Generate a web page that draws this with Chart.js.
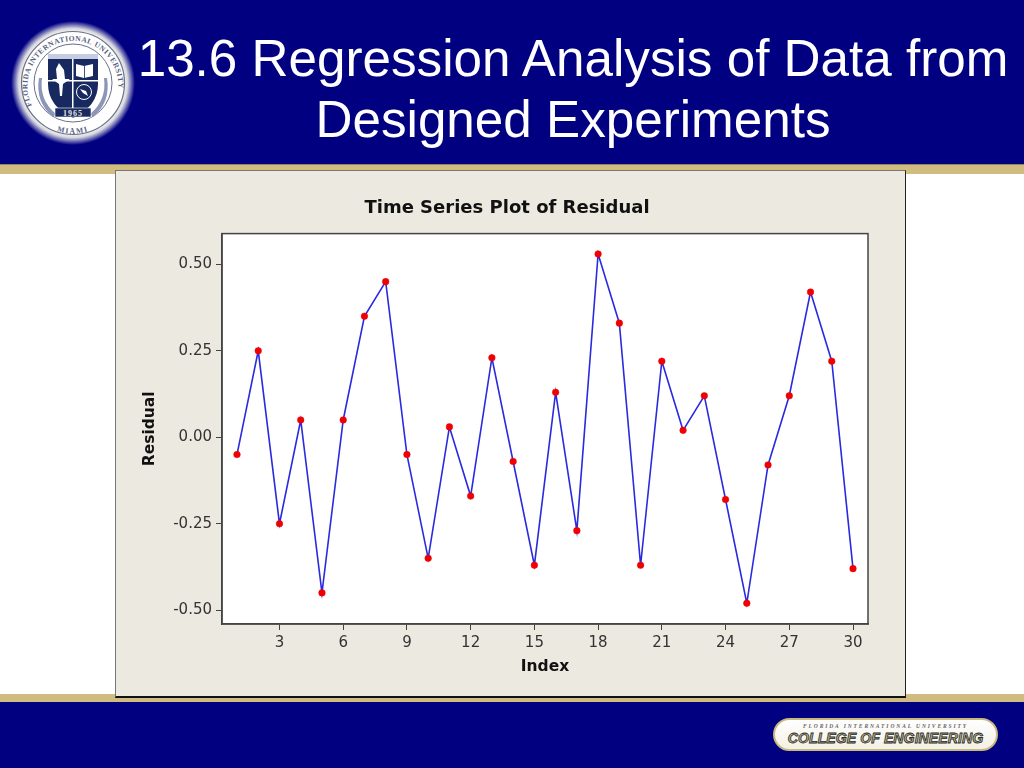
<!DOCTYPE html>
<html>
<head>
<meta charset="utf-8">
<title>13.6 Regression Analysis of Data from Designed Experiments</title>
<script src="https://cdn.jsdelivr.net/npm/chart.js@4"></script>
<style>
html, body { margin: 0; padding: 0; background: #fff; }
#slide { position: relative; width: 1024px; height: 768px; overflow: hidden; font-family: "Liberation Sans", sans-serif; }
#head { position: absolute; left: 0; top: 0; width: 1024px; height: 164px; background: #000080; }
#headBand { position: absolute; left: 0; top: 164px; width: 1024px; height: 10px; background: #d0bc80; border-top: 1px solid #8f8560; box-sizing: border-box; }
#foot { position: absolute; left: 0; top: 702px; width: 1024px; height: 66px; background: #000080; }
#footBand { position: absolute; left: 0; top: 694px; width: 1024px; height: 8px; background: #d0bc80; }
#title { position: absolute; left: 123px; top: 28px; width: 900px; text-align: center; color: #fff; font-size: 51.2px; line-height: 61px; white-space: nowrap; }
#panel { position: absolute; left: 115px; top: 170px; width: 791px; height: 528px; background: #ece9e0; border: 1px solid #77766f; border-right-color: #222; border-bottom: 2px solid #111; box-sizing: border-box; }
#chartBox { position: absolute; left: 115px; top: 170px; width: 784px; height: 527px; }
#seal { position: absolute; left: 8px; top: 18px; }
#badge { position: absolute; left: 773px; top: 718px; width: 225px; height: 33px; border-radius: 17px; background: linear-gradient(#fff, #f3f0e4); border: 2px solid #c9b97f; box-sizing: border-box; text-align: center; }
#badge .top { font: italic bold 5.5px "Liberation Serif", serif; letter-spacing: 1.9px; color: #666; margin-top: 3px; line-height: 7px; }
#badge .main { font: italic bold 14.2px "Liberation Sans", sans-serif; color: #b9b48c; -webkit-text-stroke: 0.8px #2a2a2a; line-height: 17px; white-space: nowrap; }
</style>
</head>
<body>
<div id="slide">
  <div id="head"></div>
  <div id="headBand"></div>
  <div id="footBand"></div>
  <div id="foot"></div>
  <div id="title">13.6 Regression Analysis of Data from<br>Designed Experiments</div>

  <svg id="seal" width="130" height="130" viewBox="0 0 130 130">
    <defs>
      <radialGradient id="glow">
        <stop offset="0.8" stop-color="#fffff4"/>
        <stop offset="0.88" stop-color="#fffff0" stop-opacity="0.85"/>
        <stop offset="1" stop-color="#fff" stop-opacity="0"/>
      </radialGradient>
      <path id="ringTop" d="M 23.7 87.5 A 45.5 45.5 0 1 1 106.3 87.5"/>
      <path id="ringBottom" d="M 27 98 A 50 50 0 0 0 103 98"/>
    </defs>
    <circle cx="65" cy="65" r="62" fill="url(#glow)"/>
    <circle cx="65" cy="65" r="51.5" fill="#fff" stroke="#68708c" stroke-width="1.2"/>
    <circle cx="65" cy="65" r="39" fill="#fff" stroke="#68708c" stroke-width="1"/>
    <text font-family="Liberation Serif" font-size="7.5" font-weight="bold" fill="#56607e" letter-spacing="0.5"><textPath href="#ringTop">FLORIDA INTERNATIONAL UNIVERSITY</textPath></text>
    <text font-family="Liberation Serif" font-size="7.5" font-weight="bold" fill="#56607e" letter-spacing="1.4" text-anchor="middle"><textPath href="#ringBottom" startOffset="50%">MIAMI</textPath></text>
    <path d="M 34 60 Q 31 82 48 96 L 45 99 Q 27 84 31 60 Z" fill="#8c97b8"/>
    <path d="M 96 60 Q 99 82 82 96 L 85 99 Q 103 84 99 60 Z" fill="#8c97b8"/>
    <path d="M 40 36 L 90 36 L 90 66 Q 90 88 65 100 Q 40 88 40 66 Z" fill="#17295e"/>
    <rect x="40" y="36" width="50" height="5" fill="#c7cde0"/>
    <rect x="64" y="41" width="1.5" height="50" fill="#fff"/>
    <rect x="40" y="62" width="50" height="1.5" fill="#fff"/>
    <path d="M 51 45 L 56 52 L 57 61 L 49 61 L 48 51 Z" fill="#fff"/>
    <path d="M 44 61 L 62 61 L 55 66 L 54 78 L 52 78 L 51 66 Z" fill="#fff"/>
    <path d="M 68 46 L 76 48 L 85 46 L 85 58 L 76 60 L 68 58 Z" fill="#fff"/>
    <rect x="76" y="48" width="0.8" height="12" fill="#17295e"/>
    <circle cx="76" cy="74" r="7.5" fill="#17295e" stroke="#fff" stroke-width="1"/>
    <path d="M 72 71 L 78 73 L 80 78 L 75 75 Z" fill="#fff"/>
    <rect x="47" y="90" width="36" height="9" fill="#17295e" stroke="#fff" stroke-width="0.6"/>
    <text x="65" y="97.5" text-anchor="middle" font-family="Liberation Serif" font-size="8" font-weight="bold" fill="#e6e6e6" letter-spacing="1">1965</text>
  </svg>

  <div id="panel"></div>
  <div id="chartBox"><canvas id="residualChart" width="784" height="527"></canvas></div>

  <div id="badge">
    <div class="top">FLORIDA INTERNATIONAL UNIVERSITY</div>
    <div class="main">COLLEGE OF ENGINEERING</div>
  </div>
</div>

<script>
// Time series of residuals
const indexValues = [1, 2, 3, 4, 5, 6, 7, 8, 9, 10, 11, 12, 13, 14, 15, 16, 17, 18, 19, 20, 21, 22, 23, 24, 25, 26, 27, 28, 29, 30];
const residuals = [-0.05, 0.25, -0.25, 0.05, -0.45, 0.05, 0.35, 0.45, -0.05, -0.35, 0.03, -0.17, 0.23, -0.07, -0.37, 0.13, -0.27, 0.53, 0.33, -0.37, 0.22, 0.02, 0.12, -0.18, -0.48, -0.08, 0.12, 0.42, 0.22, -0.38];
const xTicks = [3, 6, 9, 12, 15, 18, 21, 24, 27, 30];
const yTicks = [-0.5, -0.25, 0, 0.25, 0.5];

const axisColor = '#444444';
const labelFont = '"DejaVu Sans", sans-serif';

// Minitab draws a closed frame round the plot
const plotFrame = {
    id: 'plotFrame',
    beforeDraw(chart) {
        const { ctx, chartArea: a } = chart;
        ctx.save();
        ctx.fillStyle = '#ffffff';
        ctx.fillRect(a.left, a.top, a.width, a.height);
        ctx.restore();
    },
    afterDraw(chart) {
        const { ctx, chartArea: a } = chart;
        ctx.save();
        ctx.strokeStyle = axisColor;
        ctx.lineWidth = 1.5;
        ctx.strokeRect(a.left, a.top, a.width, a.height);
        ctx.restore();
    }
};

new Chart(document.getElementById('residualChart').getContext('2d'), {
    type: 'line',
    plugins: [plotFrame],
    data: {
        datasets: [{
            label: 'Residual',
            data: indexValues.map((x, i) => ({ x: x, y: residuals[i] })),
            borderColor: '#2a2ae0',
            borderWidth: 1.6,
            tension: 0,
            pointBackgroundColor: '#f00000',
            pointBorderColor: '#f00000',
            pointRadius: 3.3,
            pointBorderWidth: 0.5
        }]
    },
    options: {
        responsive: false,
        animation: false,
        // left and right padding equal so the title centres where Minitab put it
        layout: { padding: { top: 28, right: 31, left: 31, bottom: 0 } },
        plugins: {
            legend: { display: false },
            tooltip: { enabled: false },
            title: {
                display: true,
                text: 'Time Series Plot of Residual',
                color: '#111111',
                font: { family: labelFont, size: 18, weight: '600' },
                padding: { top: 0, bottom: 14 }
            }
        },
        scales: {
            x: {
                type: 'linear',
                min: 0.294,
                max: 30.706,
                afterBuildTicks(scale) { scale.ticks = xTicks.map(v => ({ value: v })); },
                afterFit(scale) { scale.height = 73; },
                grid: { drawOnChartArea: false, color: axisColor, tickLength: 6 },
                border: { color: axisColor, width: 1.5 },
                ticks: { color: '#333333', font: { family: labelFont, size: 15 }, maxRotation: 0, padding: 4, callback: v => String(v) },
                title: { display: true, text: 'Index', color: '#111111', font: { family: labelFont, size: 15.5, weight: 'bold' }, padding: { top: 2, bottom: 21 } }
            },
            y: {
                min: -0.54,
                max: 0.589,
                afterBuildTicks(scale) { scale.ticks = yTicks.map(v => ({ value: v })); },
                afterFit(scale) { scale.width = 76; },
                grid: { drawOnChartArea: false, color: axisColor, tickLength: 6 },
                border: { color: axisColor, width: 1.5 },
                ticks: { color: '#333333', font: { family: labelFont, size: 15 }, padding: 4, callback: v => v.toFixed(2) },
                title: { display: true, text: 'Residual', color: '#111111', font: { family: labelFont, size: 15.5, weight: 'bold' }, padding: { top: -5, bottom: 0 } }
            }
        }
    }
});
</script>
</body>
</html>
